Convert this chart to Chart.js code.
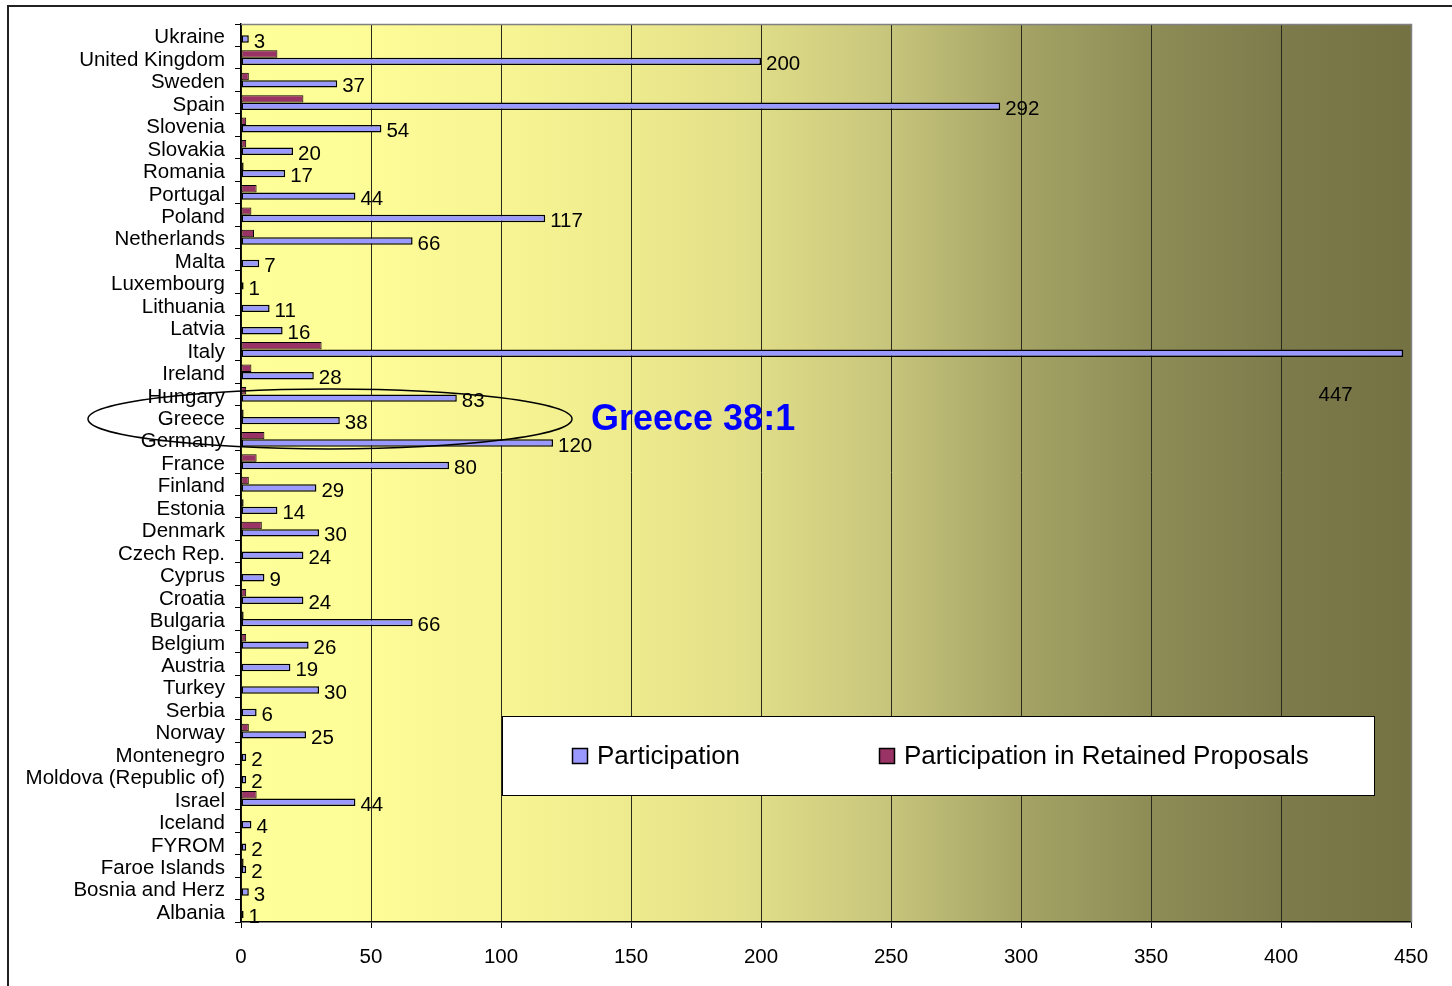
<!DOCTYPE html>
<html>
<head>
<meta charset="utf-8">
<script src="https://cdn.jsdelivr.net/npm/chart.js@4/dist/chart.umd.min.js"></script>
<style>
  html, body { margin: 0; padding: 0; background: #fff; overflow: hidden; }
  #wrap { position: relative; width: 1452px; height: 986px; }
  #frame { position: absolute; left: 7px; top: 5px; width: 2000px; height: 2000px; border: 2px solid #222; box-sizing: border-box; pointer-events: none; }
  canvas { position: absolute; left: 0; top: 0; }
</style>
</head>
<body>
<div id="wrap">
  <canvas id="c" width="1452" height="986"></canvas>
  <div id="frame"></div>
</div>
<script>
const countries = ["Ukraine","United Kingdom","Sweden","Spain","Slovenia","Slovakia","Romania","Portugal","Poland","Netherlands","Malta","Luxembourg","Lithuania","Latvia","Italy","Ireland","Hungary","Greece","Germany","France","Finland","Estonia","Denmark","Czech Rep.","Cyprus","Croatia","Bulgaria","Belgium","Austria","Turkey","Serbia","Norway","Montenegro","Moldova (Republic of)","Israel","Iceland","FYROM","Faroe Islands","Bosnia and Herz","Albania"];
const participation = [3,200,37,292,54,20,17,44,117,66,7,1,11,16,447,28,83,38,120,80,29,14,30,24,9,24,66,26,19,30,6,25,2,2,44,4,2,2,3,1];
const retained = [0,14,3,24,2,2,1,6,4,5,0,0,0,0,31,4,2,1,9,6,3,1,8,0,0,2,1,2,0,0,0,3,0,0,6,0,0,1,0,0];
const xTicks = [0,50,100,150,200,250,300,350,400,450];
const seriesNames = ["Participation","Participation in Retained Proposals"];
const annotationText = "Greece 38:1";

const FONT = "'Liberation Sans', Arial, sans-serif";

const bgPlugin = {
  id: 'bg',
  beforeDraw(chart) {
    const {ctx, chartArea: a} = chart;
    const g = ctx.createLinearGradient(a.left, 0, a.right, 0);
    g.addColorStop(0.00, '#FFFF99');
    g.addColorStop(0.08, '#FEFE98');
    g.addColorStop(0.22, '#F8F594');
    g.addColorStop(0.33, '#EEEB8E');
    g.addColorStop(0.44, '#E0DD88');
    g.addColorStop(0.55, '#C8C67C');
    g.addColorStop(0.66, '#A6A566');
    g.addColorStop(0.78, '#8D8C56');
    g.addColorStop(0.89, '#7D7B4B');
    g.addColorStop(1.00, '#747243');
    ctx.save();
    ctx.fillStyle = g;
    ctx.fillRect(a.left, a.top, a.right - a.left, a.bottom - a.top);
    ctx.restore();
  },
  afterDatasetsDraw(chart) {
    const {ctx, chartArea: a} = chart;
    ctx.save();
    ctx.strokeStyle = '#808080';
    ctx.lineWidth = 1.5;
    ctx.beginPath();
    ctx.moveTo(a.left, a.top + 0.5);
    ctx.lineTo(a.right + 0.5, a.top + 0.5);
    ctx.lineTo(a.right + 0.5, a.bottom);
    ctx.stroke();
    ctx.restore();
  }
};

const labelPlugin = {
  id: 'vlabels',
  afterDatasetsDraw(chart) {
    const {ctx} = chart;
    const meta = chart.getDatasetMeta(1);
    const xs = chart.scales.x, ys = chart.scales.y;
    ctx.save();
    ctx.font = '20.5px ' + FONT;
    ctx.fillStyle = '#000';
    ctx.textBaseline = 'middle';
    meta.data.forEach((bar, i) => {
      const v = participation[i];
      if (v >= 440) {
        ctx.textAlign = 'center';
        ctx.fillText(String(v), xs.getPixelForValue(421), ys.getPixelForValue(i + 2) + 1);
      } else {
        ctx.textAlign = 'left';
        ctx.fillText(String(v), bar.x + 5, bar.y + 3);
      }
    });
    // Annotation: ellipse + text
    const gy = ys.getPixelForValue(countries.indexOf('Greece'));
    ctx.strokeStyle = '#000';
    ctx.lineWidth = 1.5;
    ctx.beginPath();
    ctx.ellipse(330, gy + 2, 242, 30, 0, 0, Math.PI * 2);
    ctx.stroke();
    ctx.font = 'bold 36px ' + FONT;
    ctx.fillStyle = '#0000FF';
    ctx.textAlign = 'left';
    ctx.textBaseline = 'alphabetic';
    ctx.fillText(annotationText, 591, 430);
    // Legend box
    const lx = 502, ly = 716, lw = 872, lh = 79;
    ctx.fillStyle = '#fff';
    ctx.fillRect(lx, ly, lw, lh);
    ctx.strokeStyle = '#000';
    ctx.lineWidth = 1;
    ctx.strokeRect(lx + 0.5, ly + 0.5, lw, lh);
    const items = [
      {x: 572, color: '#9999FF', text: seriesNames[0]},
      {x: 879, color: '#993366', text: seriesNames[1]}
    ];
    ctx.font = '26px ' + FONT;
    ctx.textBaseline = 'middle';
    items.forEach(it => {
      ctx.fillStyle = it.color;
      ctx.fillRect(it.x, 748, 16, 16);
      ctx.strokeStyle = '#000';
      ctx.lineWidth = 1.5;
      ctx.strokeRect(it.x + 0.5, 748.5, 15, 15);
      ctx.fillStyle = '#000';
      ctx.fillText(it.text, it.x + 25, 757);
    });
    ctx.restore();
  }
};

new Chart(document.getElementById('c'), {
  type: 'bar',
  data: {
    labels: countries,
    datasets: [
      { label: seriesNames[1], data: retained, backgroundColor: '#993366', borderColor: '#000', borderWidth: 1, borderSkipped: false, categoryPercentage: 0.66, barPercentage: 1.0 },
      { label: seriesNames[0], data: participation, backgroundColor: '#9999FF', borderColor: '#000', borderWidth: 1.5, borderSkipped: false, categoryPercentage: 0.66, barPercentage: 1.0 }
    ]
  },
  options: {
    indexAxis: 'y',
    responsive: false,
    animation: false,
    events: [],
    layout: { padding: { top: 24, right: 41, left: 0, bottom: 0 } },
    plugins: { legend: { display: false }, tooltip: { enabled: false } },
    scales: {
      x: {
        min: 0, max: 450,
        afterBuildTicks(s) { s.ticks = xTicks.map(v => ({value: v})); },
        afterFit(s) { s.height = 64; },
        grid: {
          color: ctx => (ctx.tick && ctx.tick.value === 450) ? '#808080' : '#2a2a1a',
          lineWidth: 1,
          tickColor: '#000',
          tickLength: 6,
          drawTicks: true
        },
        border: { color: '#000', width: 1.5 },
        ticks: { color: '#000', font: { family: FONT, size: 20.5 }, padding: 17, maxRotation: 0, autoSkip: false }
      },
      y: {
        afterFit(s) { s.width = 241; },
        grid: { drawOnChartArea: false, drawTicks: true, tickLength: 6, tickColor: '#000', offset: true },
        border: { color: '#000', width: 1.5 },
        ticks: { color: '#000', font: { family: FONT, size: 20.5 }, padding: 10, labelOffset: 2.5, autoSkip: false }
      }
    }
  },
  plugins: [bgPlugin, labelPlugin]
});
</script>
</body>
</html>
